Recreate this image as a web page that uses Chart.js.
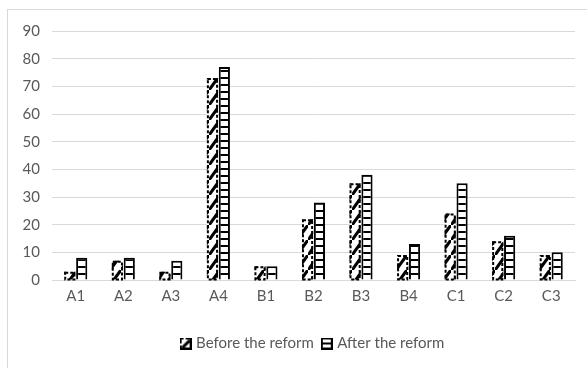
<!DOCTYPE html>
<html>
<head>
<meta charset="utf-8">
<script src="https://cdn.jsdelivr.net/npm/chart.js@4"></script>
<style>
  body { margin: 0; background: #fff; }
  #frame { position: absolute; left: 7px; top: 9px; width: 590px; height: 370px;
           border-left: 1px solid #d9d9d9; border-top: 1px solid #d9d9d9; }
  #wrap { position: absolute; left: 0; top: 0; width: 587px; height: 368px; }
</style>
</head>
<body>
<div id="frame"></div>
<div id="wrap"><canvas id="chart"></canvas></div>
<script>
const categories = ["A1", "A2", "A3", "A4", "B1", "B2", "B3", "B4", "C1", "C2", "C3"];
const beforeReform = [3, 7, 3, 73, 5, 22, 35, 9, 24, 14, 9];
const afterReform = [8, 8, 7, 77, 5, 28, 38, 13, 35, 16, 10];

function slashPattern() {
  const c = document.createElement("canvas");
  c.width = 11; c.height = 15;
  const g = c.getContext("2d");
  g.fillStyle = "#fff";
  g.fillRect(0, 0, 11, 15);
  g.strokeStyle = "#000";
  g.lineWidth = 3;
  g.beginPath();
  g.moveTo(-2, 15 + 3);
  g.lineTo(11 + 2, -3);
  g.stroke();
  return g.createPattern(c, "repeat");
}

function ladderPattern() {
  const c = document.createElement("canvas");
  c.width = 8; c.height = 7;
  const g = c.getContext("2d");
  g.fillStyle = "#fff";
  g.fillRect(0, 0, 8, 7);
  g.fillStyle = "#000";
  g.fillRect(0, 0, 8, 2);
  return g.createPattern(c, "repeat");
}

// small legend icons
function beforeIcon() {
  const c = document.createElement("canvas");
  c.width = 12; c.height = 12;
  const g = c.getContext("2d");
  g.fillStyle = "#000";
  g.fillRect(0, 0, 12, 12);
  g.fillStyle = "#fff";
  g.fillRect(2, 2, 8, 8);
  g.fillRect(4, 0, 2, 2);
  g.fillRect(0, 6, 2, 2);
  g.strokeStyle = "#000";
  g.lineWidth = 3;
  g.beginPath();
  g.moveTo(3, 10);
  g.lineTo(10, 3);
  g.stroke();
  return c;
}

function afterIcon() {
  const c = document.createElement("canvas");
  c.width = 12; c.height = 12;
  const g = c.getContext("2d");
  g.fillStyle = "#000";
  g.fillRect(0, 0, 12, 12);
  g.fillStyle = "#fff";
  g.fillRect(2, 2, 8, 3);
  g.fillRect(2, 7, 8, 3);
  return c;
}

const dashedBorder = {
  id: "dashedBorder",
  afterDatasetsDraw(chart) {
    const ctx = chart.ctx;
    chart.getDatasetMeta(0).data.forEach(bar => {
      const p = bar.getProps(["x", "y", "base", "width"], true);
      ctx.save();
      ctx.strokeStyle = "#000";
      ctx.lineWidth = 2;
      ctx.setLineDash([3, 2]);
      ctx.strokeRect(p.x - p.width / 2 + 1, p.y + 1, p.width - 2, p.base - p.y - 1);
      ctx.restore();
    });
  }
};

new Chart(document.getElementById("chart"), {
  type: "bar",
  data: {
    labels: categories,
    datasets: [{
      label: "Before the reform",
      data: beforeReform,
      backgroundColor: slashPattern(),
      borderWidth: 0,
      pointStyle: beforeIcon()
    }, {
      label: "After the reform",
      data: afterReform,
      backgroundColor: ladderPattern(),
      borderColor: "#000",
      borderWidth: 2,
      pointStyle: afterIcon()
    }]
  },
  options: {
    responsive: true,
    maintainAspectRatio: false,
    animation: false,
    layout: { padding: { left: 0, right: 12, top: 31, bottom: 7 } },
    datasets: { bar: { categoryPercentage: 0.5, barPercentage: 0.94 } },
    scales: {
      x: {
        grid: { display: false, drawTicks: false },
        border: { color: "#d9d9d9" },
        ticks: { color: "#595959", font: { family: "Lato", size: 15 }, padding: 7 },
        afterFit: s => { s.height = 46; }
      },
      y: {
        min: 0, max: 90,
        ticks: { stepSize: 10, color: "#595959", font: { family: "Lato", size: 15 }, padding: 12 },
        grid: { color: "#d9d9d9", drawTicks: false },
        border: { display: false },
        afterFit: s => { s.width = 52; }
      }
    },
    plugins: {
      legend: {
        position: "bottom",
        fullSize: false,
        labels: {
          color: "#595959",
          font: { family: "Lato", size: 15 },
          usePointStyle: true,
          pointStyleWidth: 6,
          padding: 10
        }
      },
      tooltip: { enabled: false }
    }
  },
  plugins: [dashedBorder]
});
</script>
</body>
</html>
